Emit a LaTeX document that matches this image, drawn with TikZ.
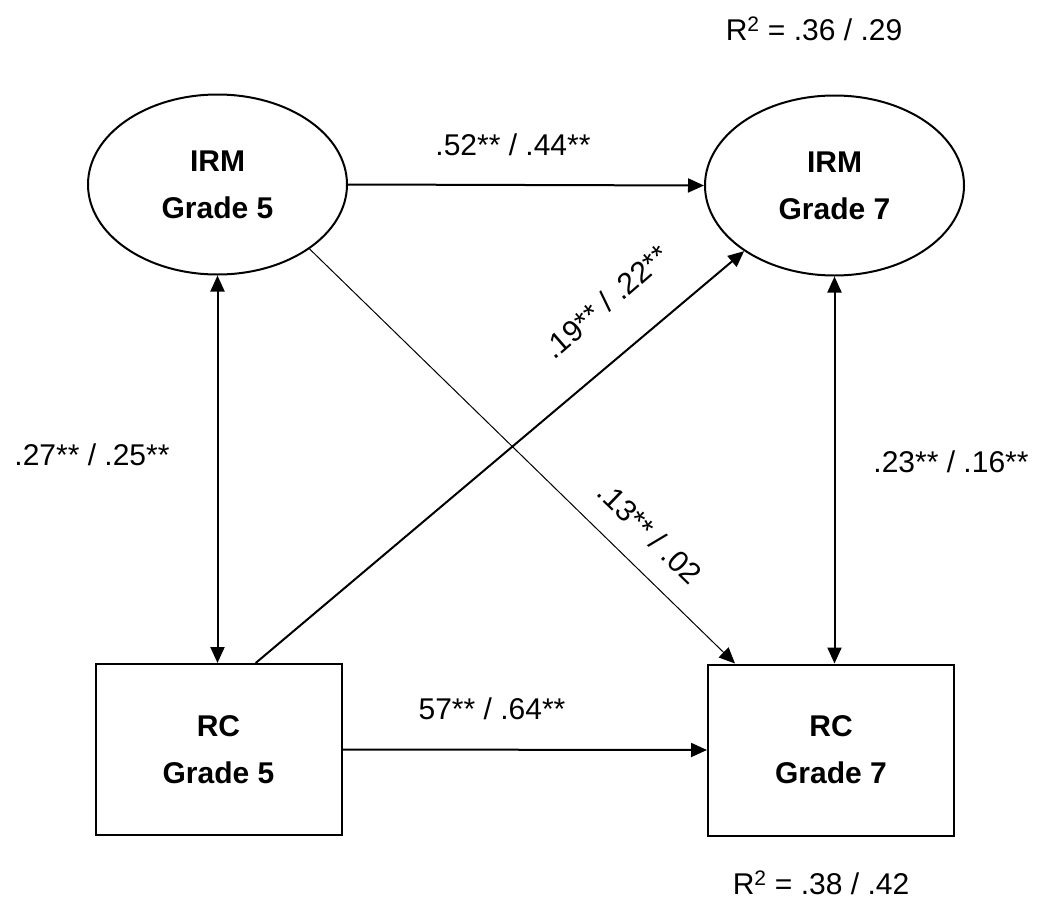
\documentclass[tikz,border=0pt]{standalone}
\usepackage{fontspec}
\setmainfont{Liberation Sans}
\usetikzlibrary{shapes.geometric,arrows.meta,calc}
\begin{document}
\begin{tikzpicture}[x=1pt,y=-1pt,
  latent/.style={ellipse,draw,line width=2pt,minimum width=259pt,minimum height=180pt,inner sep=0pt,align=center,font=\fontsize{30}{47}\selectfont\bfseries},
  observed/.style={rectangle,draw,line width=2pt,minimum width=246pt,minimum height=171pt,inner sep=0pt,align=center,font=\fontsize{30}{47}\selectfont\bfseries},
  tip/.style={-{Triangle[length=16pt,width=14pt]}},
  both/.style={{Triangle[length=16pt,width=14pt]}-{Triangle[length=16pt,width=14pt]}},
  thick path/.style={line width=2pt},
  thin path/.style={line width=1pt},
  coef/.style={inner sep=0pt,font=\fontsize{30}{36}\selectfont}
]
\useasboundingbox (0,0) rectangle (1039,902);
\node[latent] (irm5) at (217.5,184.5) {IRM\\Grade 5};
\node[latent] (irm7) at (834.5,185.5) {IRM\\Grade 7};
\node[observed] (rc5) at (218.5,749.5) {RC\\Grade 5};
\node[observed] (rc7) at (831,750) {RC\\Grade 7};

\draw[thick path,tip] (irm5.east) -- (irm7.west);
\draw[thick path,tip] (rc5.east) -- (rc7.west);
\draw[thick path,both] (irm5.south) -- (irm5.south |- rc5.north);
\draw[thick path,both] (irm7.south) -- (irm7.south |- rc7.north);
\draw[thick path,tip] ($(rc5.north west)!0.65!(rc5.north east)$) -- (irm7.216);
\draw[thin path,tip] (irm5.325) -- ($(rc7.north west)!0.113!(rc7.north east)$);

\node[coef] (l1) at (513,145) {.52** / .44**};
\node[coef] (l2) at (492,709) {57** / .64**};
\node[coef] (l3) at (92,455) {.27** / .25**};
\node[coef] (l4) at (951,462) {.23** / .16**};
\node[coef,rotate=41] (l5) at (606,302) {.19** / .22**};
\node[coef,rotate=-44] (l6) at (650,533) {.13** / .02};
\node[coef] (r1) at (814,29) {R\textsuperscript{2} = .36 / .29};
\node[coef] (r2) at (821,883) {R\textsuperscript{2} = .38 / .42};
\end{tikzpicture}
\end{document}
